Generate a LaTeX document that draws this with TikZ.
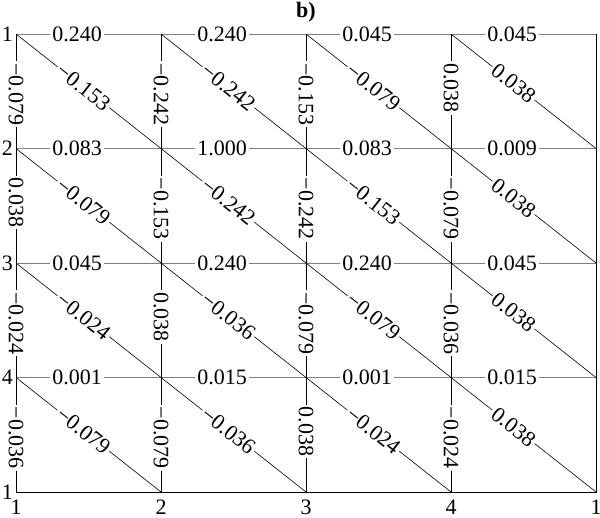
\documentclass[tikz,border=0pt]{standalone}
\usepackage{fontspec}
\setmainfont{Liberation Serif}
\usepackage{tikz}
\usetikzlibrary{positioning}

\begin{document}
\begin{tikzpicture}[x=1pt, y=1pt,
  hline/.style={draw=black!50, line width=0.8pt},
  vline/.style={draw=black, line width=0.8pt},
  dline/.style={draw=black, line width=0.6pt},
  frame/.style={draw=black, line width=0.9pt},
  lab/.style={fill=white, inner sep=2pt, anchor=west, font=\fontsize{22}{24}\selectfont},
  tag/.style={inner sep=1pt, font=\fontsize{22}{24}\selectfont}]
  \fill[white] (0,0) rectangle (600,517);
  \useasboundingbox (0,0) rectangle (600,517);
  % grid points
  \foreach \i in {1,...,5}
    \foreach \j in {1,...,5}
      \coordinate (n-\i-\j) at ({16+145*(\i-1)}, {483-114.5*(\j-1)});
  \node[font=\bfseries\fontsize{22}{24}\selectfont] (title) at (306,505) {b)};

  % horizontal edges
  \foreach \row [count=\j] in {{0.240,0.240,0.045,0.045},{0.083,1.000,0.083,0.009},
                               {0.045,0.240,0.240,0.045},{0.001,0.015,0.001,0.015}}
    \foreach \v [count=\i] in \row {
      \pgfmathtruncatemacro\k{\i+1}
      \draw[hline] (n-\i-\j) -- node[lab, pos=0.234]{\v} (n-\k-\j);
    }
  % vertical edges
  \foreach \col [count=\i] in {{−0.079,0.038,−0.024,−0.036},{−0.242,−0.153,0.038,−0.079},
                               {−0.153,−0.242,−0.079,0.038},{0.038,−0.079,−0.036,−0.024}}
    \foreach \v [count=\j] in \col {
      \pgfmathtruncatemacro\k{\j+1}
      \draw[vline] (n-\i-\j) -- node[lab, pos=0.235, rotate=-90]{\v} (n-\i-\k);
    }
  % diagonal edges
  \foreach \row [count=\j] in {{−0.153,−0.242,−0.079,0.038},{−0.079,−0.242,−0.153,0.038},
                               {−0.024,−0.036,−0.079,0.038},{−0.079,−0.036,−0.024,0.038}}
    \foreach \v [count=\i] in \row {
      \pgfmathtruncatemacro\k{\i+1}
      \pgfmathtruncatemacro\l{\j+1}
      \draw[dline] (n-\i-\j) -- node[lab, pos=0.285, sloped]{\v} (n-\k-\l);
    }
  \draw[frame] (n-1-5) -- (n-5-5) -- (n-5-1);

  % side and bottom indices
  \foreach \t [count=\j] in {1,2,3,4,1}
    \node[tag, left=2pt of n-1-\j] (l-\j) {\t};
  \foreach \t [count=\i] in {1,2,3,4,1}
    \node[tag, below=7pt of n-\i-5] (b-\i) {\t};
\end{tikzpicture}
\end{document}
